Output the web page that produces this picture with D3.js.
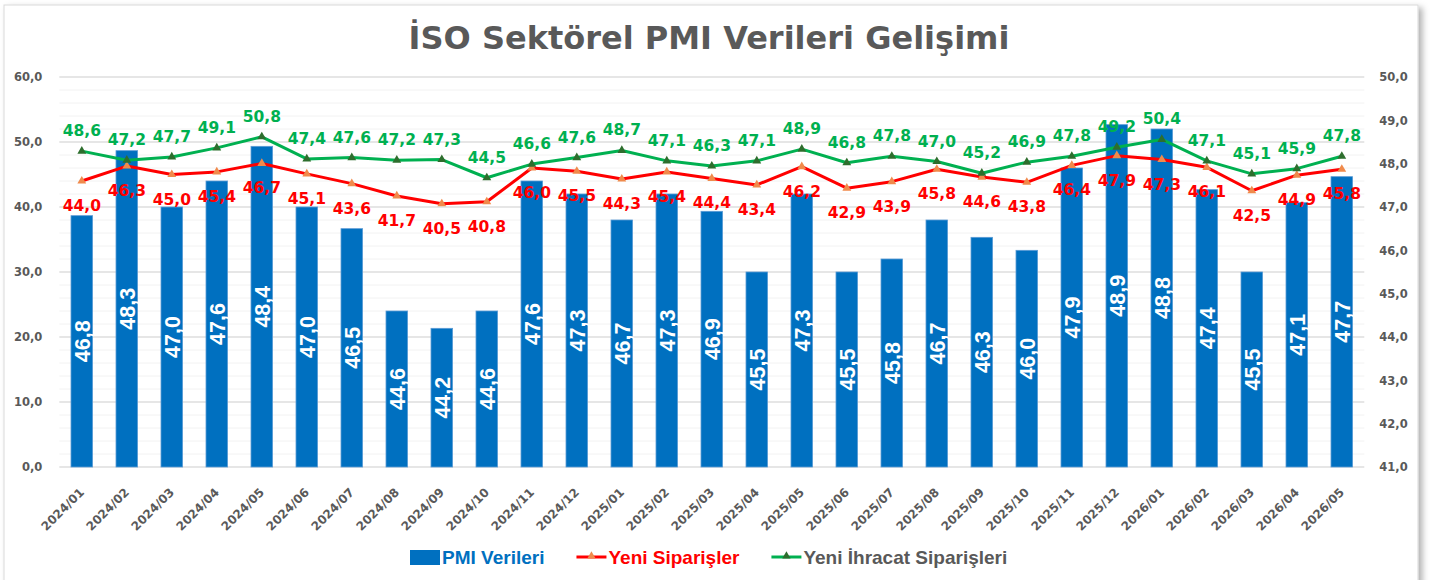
<!DOCTYPE html>
<html>
<head>
<meta charset="utf-8">
<script src="https://cdn.jsdelivr.net/npm/d3@7"></script>
<style>
    html, body { margin: 0; padding: 0; background: #ffffff; }
    #chart { width: 1432px; height: 580px; }
</style>
</head>
<body>
<div id="chart"></div>
<script>
const months = [
    "2024/01", "2024/02", "2024/03", "2024/04", "2024/05", "2024/06", "2024/07", "2024/08", "2024/09", "2024/10",
    "2024/11", "2024/12", "2025/01", "2025/02", "2025/03", "2025/04", "2025/05", "2025/06", "2025/07", "2025/08",
    "2025/09", "2025/10", "2025/11", "2025/12", "2026/01", "2026/02", "2026/03", "2026/04", "2026/05"
];

// PMI Verileri (sag eksen)
const pmiValues = [
    46.8, 48.3, 47.0, 47.6, 48.4, 47.0, 46.5, 44.6, 44.2, 44.6,
    47.6, 47.3, 46.7, 47.3, 46.9, 45.5, 47.3, 45.5, 45.8, 46.7,
    46.3, 46.0, 47.9, 48.9, 48.8, 47.4, 45.5, 47.1, 47.7
];

// Yeni Siparişler (sol eksen)
const newOrders = [
    44.0, 46.3, 45.0, 45.4, 46.7, 45.1, 43.6, 41.7, 40.5, 40.8,
    46.0, 45.5, 44.3, 45.4, 44.4, 43.4, 46.2, 42.9, 43.9, 45.8,
    44.6, 43.8, 46.4, 47.9, 47.3, 46.1, 42.5, 44.9, 45.8
];

// Yeni İhracat Siparişleri (sol eksen)
const newExportOrders = [
    48.6, 47.2, 47.7, 49.1, 50.8, 47.4, 47.6, 47.2, 47.3, 44.5,
    46.6, 47.6, 48.7, 47.1, 46.3, 47.1, 48.9, 46.8, 47.8, 47.0,
    45.2, 46.9, 47.8, 49.2, 50.4, 47.1, 45.1, 45.9, 47.8
];

const leftTicks = [0, 10, 20, 30, 40, 50, 60];
const leftMinorTicks = d3.range(0, 61, 2);
const rightTicks = [41, 42, 43, 44, 45, 46, 47, 48, 49, 50];

const titleText = "İSO Sektörel PMI Verileri Gelişimi";
const legendNames = ["PMI Verileri", "Yeni Siparişler", "Yeni İhracat Siparişleri"];

const fmt = v => d3.format(".1f")(v).replace(".", ",");


class PmiChart{
    constructor(parentSelector){
        this.parent = d3.select(parentSelector);

        this.wSvg = 1432;
        this.hSvg = 580;
        this.left = 59.3;
        this.right = 1364.3;
        this.top = 77;
        this.bottom = 467;

        this.blue = "#0070c0";
        this.red = "#ff0000";
        this.green = "#00b050";
        this.grey = "#595959";
        this.numFont = "'DejaVu Sans', Verdana, sans-serif";
        this.narrowFont = "'Liberation Sans', Arial, sans-serif";

        this.init();
    }

    init(){
        this.svg = this.parent.append("svg")
            .attr("width", this.wSvg)
            .attr("height", this.hSvg)
            .attr("viewBox", `0 0 ${this.wSvg} ${this.hSvg}`);

        this.prepScales();
        this.renderFrame();
        this.renderGrid();
        this.renderAxes();
        this.renderBars();
        this.renderLines();
        this.renderLabels();
        this.renderLegend();
    }

    prepScales(){
        this.xScale = d3.scaleBand()
            .domain(months)
            .range([this.left, this.right])
            .paddingInner(0.52)
            .paddingOuter(0.26);

        this.yLeft = d3.scaleLinear()
            .domain([0, 60])
            .range([this.bottom, this.top]);

        this.yRight = d3.scaleLinear()
            .domain([41, 50])
            .range([this.bottom, this.top]);

        this.cx = m => this.xScale(m) + this.xScale.bandwidth() / 2;
    }

    renderFrame(){
        const defs = this.svg.append("defs");
        const f = defs.append("filter")
            .attr("id", "frame-shadow")
            .attr("x", "-5%").attr("y", "-5%")
            .attr("width", "110%").attr("height", "110%");
        f.append("feDropShadow")
            .attr("dx", 4).attr("dy", 3)
            .attr("stdDeviation", 3)
            .attr("flood-color", "#000")
            .attr("flood-opacity", 0.3);

        this.svg.append("rect")
            .attr("x", 4).attr("y", 5)
            .attr("width", 1414).attr("height", 620)
            .attr("fill", "#ffffff")
            .attr("stroke", "#d9d9d9")
            .attr("stroke-width", 1)
            .attr("filter", "url(#frame-shadow)");

        this.svg.append("text")
            .attr("x", 709)
            .attr("y", 49)
            .attr("text-anchor", "middle")
            .attr("font-family", this.numFont)
            .attr("font-weight", "bold")
            .attr("font-size", 32)
            .attr("fill", this.grey)
            .text(titleText);
    }

    renderGrid(){
        const grid = this.svg.append("g").classed("grid", true);

        grid.selectAll("line.minor")
            .data(leftMinorTicks.filter(t => t % 10 !== 0))
            .enter()
            .append("line")
                .classed("minor", true)
                .attr("x1", this.left).attr("x2", this.right)
                .attr("y1", d => this.yLeft(d)).attr("y2", d => this.yLeft(d))
                .attr("stroke", "#f2f2f2")
                .attr("stroke-width", 1);

        grid.selectAll("line.major")
            .data(leftTicks)
            .enter()
            .append("line")
                .classed("major", true)
                .attr("x1", this.left).attr("x2", this.right)
                .attr("y1", d => this.yLeft(d)).attr("y2", d => this.yLeft(d))
                .attr("stroke", "#dedede")
                .attr("stroke-width", 1.5);
    }

    renderAxes(){
        const styleTicks = g => {
            g.select(".domain").remove();
            g.selectAll("line").remove();
            g.selectAll("text")
                .attr("font-family", this.numFont)
                .attr("font-weight", "bold")
                .attr("font-size", 11.5)
                .attr("fill", this.grey);
        };

        this.svg.append("g")
            .attr("transform", `translate(${this.left},0)`)
            .call(d3.axisLeft(this.yLeft).tickValues(leftTicks).tickFormat(fmt).tickSize(0).tickPadding(17))
            .call(styleTicks);

        this.svg.append("g")
            .attr("transform", `translate(${this.right},0)`)
            .call(d3.axisRight(this.yRight).tickValues(rightTicks).tickFormat(fmt).tickSize(0).tickPadding(15))
            .call(styleTicks);

        const xAxis = this.svg.append("g")
            .attr("transform", `translate(0,${this.bottom})`)
            .call(d3.axisBottom(this.xScale).tickSize(0))
            .call(g => g.select(".domain").remove());

        xAxis.selectAll("text")
            .attr("font-family", this.numFont)
            .attr("font-weight", "bold")
            .attr("font-size", 12)
            .attr("fill", this.grey)
            .attr("text-anchor", "end")
            .attr("dy", 0)
            .attr("y", 0)
            .attr("transform", "translate(3,26) rotate(-45)");
    }

    renderBars(){
        const bars = this.svg.append("g").classed("bars", true);
        const data = months.map((m, i) => ({ m, v: pmiValues[i] }));

        bars.selectAll("rect")
            .data(data)
            .enter()
            .append("rect")
                .attr("x", d => this.xScale(d.m))
                .attr("y", d => this.yRight(d.v))
                .attr("width", this.xScale.bandwidth())
                .attr("height", d => this.bottom - this.yRight(d.v))
                .attr("fill", this.blue)
                .attr("stroke", "#5b9bd5")
                .attr("stroke-width", 0.8);

        bars.selectAll("text")
            .data(data)
            .enter()
            .append("text")
                .attr("transform", d => `translate(${this.cx(d.m)},${(this.yRight(d.v) + this.bottom) / 2}) rotate(-90)`)
                .attr("text-anchor", "middle")
                .attr("dy", "0.36em")
                .attr("font-family", this.narrowFont)
                .attr("font-weight", "bold")
                .attr("font-size", 21.5)
                .attr("fill", "#ffffff")
                .text(d => fmt(d.v));
    }

    renderLines(){
        const series = [
            { values: newOrders, color: this.red, marker: "#f08a4b" },
            { values: newExportOrders, color: this.green, marker: "#2d6e2d" }
        ];
        const line = d3.line()
            .x((d, i) => this.cx(months[i]))
            .y(d => this.yLeft(d));
        const tri = d3.symbol(d3.symbolTriangle, 34);

        series.forEach(s => {
            const g = this.svg.append("g");
            g.append("path")
                .datum(s.values)
                .attr("d", line)
                .attr("fill", "none")
                .attr("stroke", s.color)
                .attr("stroke-width", 3)
                .attr("stroke-linejoin", "round");

            g.selectAll("path.marker")
                .data(s.values)
                .enter()
                .append("path")
                    .classed("marker", true)
                    .attr("d", tri)
                    .attr("transform", (d, i) => `translate(${this.cx(months[i])},${this.yLeft(d)})`)
                    .attr("fill", s.marker);
        });
    }

    renderLabels(){
        const labels = this.svg.append("g").classed("line-labels", true);

        labels.selectAll("text.red")
            .data(newOrders)
            .enter()
            .append("text")
                .classed("red", true)
                .attr("x", (d, i) => this.cx(months[i]))
                .attr("y", d => this.yLeft(d) + 30)
                .attr("text-anchor", "middle")
                .attr("font-family", this.numFont)
                .attr("font-weight", "bold")
                .attr("font-size", 15.5)
                .attr("fill", this.red)
                .text(d => fmt(d));

        labels.selectAll("text.green")
            .data(newExportOrders)
            .enter()
            .append("text")
                .classed("green", true)
                .attr("x", (d, i) => this.cx(months[i]))
                .attr("y", d => this.yLeft(d) - 15)
                .attr("text-anchor", "middle")
                .attr("font-family", this.numFont)
                .attr("font-weight", "bold")
                .attr("font-size", 15.5)
                .attr("fill", this.green)
                .text(d => fmt(d));
    }

    renderLegend(){
        const legend = this.svg.append("g").classed("legend", true);
        const colors = [this.blue, this.red, this.grey];
        const baseline = 564;
        let xPos = 410;

        legendNames.forEach((name, i) => {
            if (i === 0) {
                legend.append("rect")
                    .attr("x", xPos).attr("y", 550)
                    .attr("width", 30).attr("height", 15)
                    .attr("fill", this.blue);
            } else {
                const lineColor = i === 1 ? this.red : this.green;
                const markColor = i === 1 ? "#f08a4b" : "#2d6e2d";
                legend.append("line")
                    .attr("x1", xPos).attr("x2", xPos + 30)
                    .attr("y1", 557).attr("y2", 557)
                    .attr("stroke", lineColor)
                    .attr("stroke-width", 3);
                legend.append("path")
                    .attr("d", d3.symbol(d3.symbolTriangle, 30)())
                    .attr("transform", `translate(${xPos + 15},556)`)
                    .attr("fill", markColor);
            }

            const t = legend.append("text")
                .attr("x", xPos + 32)
                .attr("y", baseline)
                .attr("font-family", this.narrowFont)
                .attr("font-weight", "bold")
                .attr("font-size", 19)
                .attr("fill", colors[i])
                .text(name);

            xPos = xPos + 32 + t.node().getComputedTextLength() + 32;
        });
    }
}

new PmiChart("#chart");
</script>
</body>
</html>
